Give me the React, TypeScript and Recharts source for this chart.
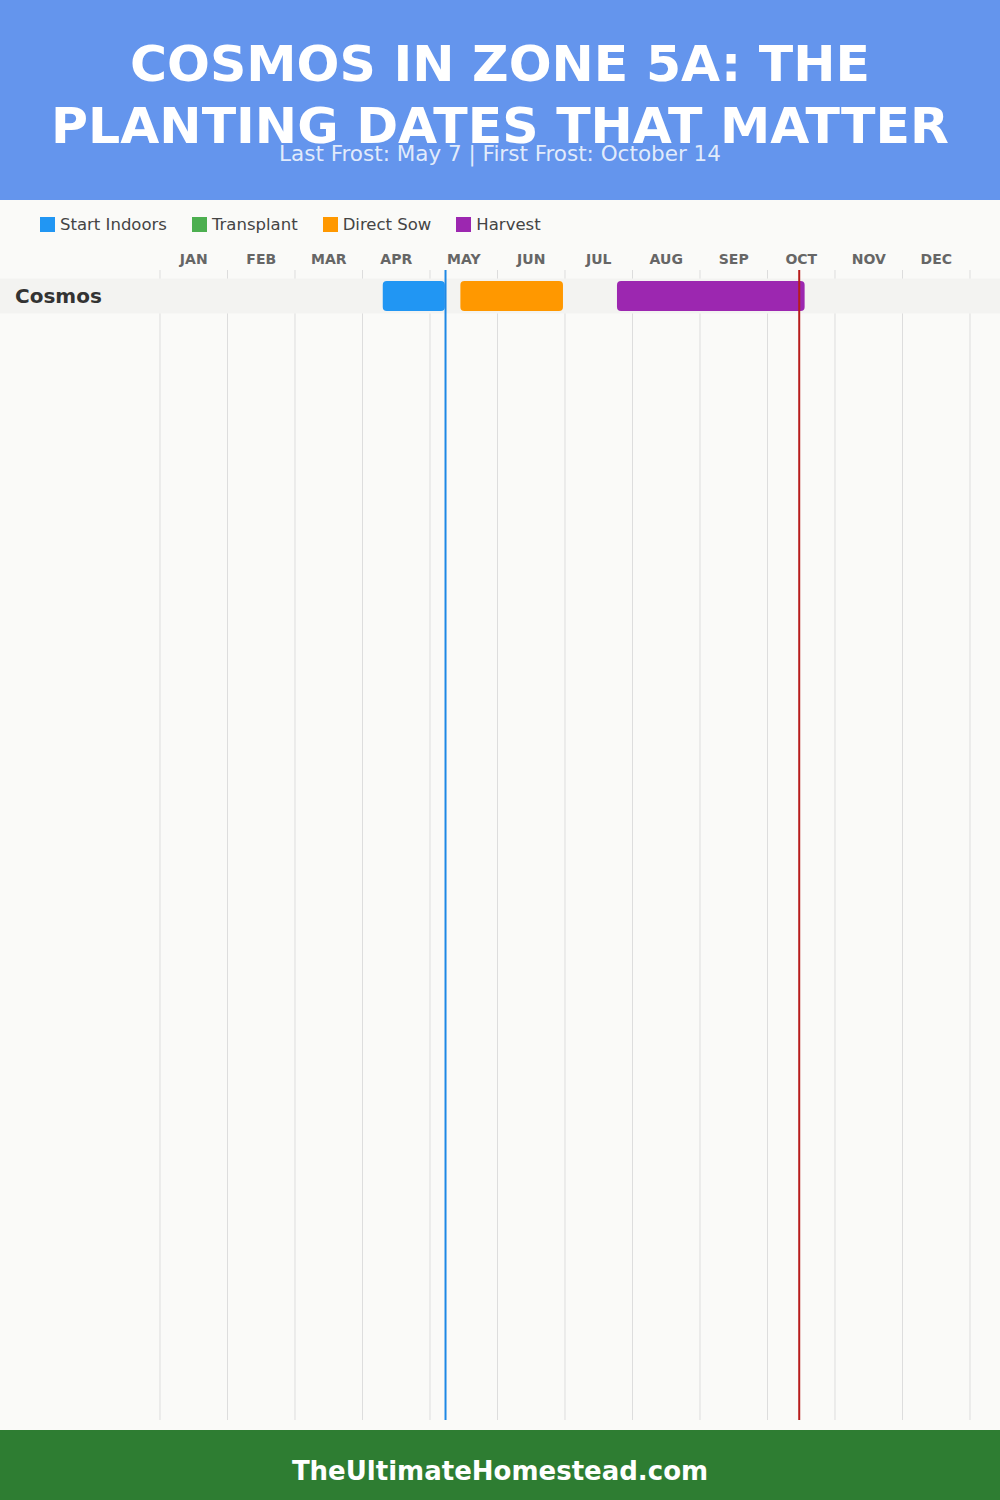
import React from 'react';
import { BarChart, Bar, XAxis, YAxis, CartesianGrid, ReferenceLine, Legend } from 'recharts';

// month units: 0 = Jan 1, 12 = end of Dec
const MONTHS = ['JAN', 'FEB', 'MAR', 'APR', 'MAY', 'JUN', 'JUL', 'AUG', 'SEP', 'OCT', 'NOV', 'DEC'];
const MONTH_MIDS = [0.5, 1.5, 2.5, 3.5, 4.5, 5.5, 6.5, 7.5, 8.5, 9.5, 10.5, 11.5];
const MONTH_EDGES = [0, 1, 2, 3, 4, 5, 6, 7, 8, 9, 10, 11, 12];

const SERIES_NAMES = ['Start Indoors', 'Transplant', 'Direct Sow', 'Harvest'];

const PLANTS = ['Cosmos'];
const START_INDOORS = [[3.3, 4.22]];
const TRANSPLANT = [null];
const DIRECT_SOW = [[4.45, 5.97]];
const HARVEST = [[6.77, 9.55]];

const LAST_FROST = 4.23; // May 7
const FIRST_FROST = 9.47; // Oct 14

const FONT = '"DejaVu Sans", sans-serif';

const PlantTick = (props: any) => {
    const { y, payload } = props;
    return (
        <text x={15} y={y} dy="0.35em" textAnchor="start" fontSize={20} fontWeight={700} fill="#333">
            {payload.value}
        </text>
    );
};

// full-width light row band behind the bars
const BandBackground = (props: any) => (
    <rect x={0} y={props.y - 2.5} width={1000} height={props.height + 5} fill="#f3f3f1" />
);

const renderLegend = (props: any) => {
    const items = props.payload || [];
    const ordered = SERIES_NAMES.map((n) => items.find((e: any) => e.value === n)).filter(Boolean);
    return (
        <div style={{ display: 'flex', alignItems: 'center' }}>
            {ordered.map((entry: any) => (
                <div key={entry.value} style={{ display: 'flex', alignItems: 'center', marginRight: 25 }}>
                    <span style={{ display: 'inline-block', width: 15, height: 15, background: entry.color, marginRight: 5 }} />
                    <span style={{ fontSize: 16.5, color: '#444' }}>{entry.value}</span>
                </div>
            ))}
        </div>
    );
};

export default function App() {
    const data = PLANTS.map((plant, i) => ({
        plant,
        startIndoors: START_INDOORS[i],
        transplant: TRANSPLANT[i],
        directSow: DIRECT_SOW[i],
        harvest: HARVEST[i],
    }));

    return (
        <div style={{ position: 'absolute', left: 0, top: 0, width: 1000, height: 1500, background: '#fafaf8', fontFamily: FONT, overflow: 'hidden' }}>
            <div style={{ position: 'absolute', left: 0, top: 0, width: 1000, height: 200, background: '#6495ed' }}>
                <div style={{ position: 'absolute', top: 33, width: '100%', textAlign: 'center', color: '#fff', fontWeight: 800, fontSize: 50.5, lineHeight: '62px' }}>
                    COSMOS IN ZONE 5A: THE
                    <br />
                    PLANTING DATES THAT MATTER
                </div>
                <div style={{ position: 'absolute', top: 141, width: '100%', textAlign: 'center', color: 'rgba(255,255,255,0.82)', fontSize: 21.5, lineHeight: '26px' }}>
                    Last Frost: May 7 | First Frost: October 14
                </div>
            </div>

            <div style={{ position: 'absolute', left: 0, top: 200 }}>
                <BarChart
                    width={1000}
                    height={1230}
                    data={data}
                    layout="vertical"
                    margin={{ top: 40, right: 30, bottom: 10, left: 0 }}
                    barSize={30}
                    barGap={-30}
                >
                    <CartesianGrid horizontal={false} verticalValues={MONTH_EDGES} stroke="#dddddd" />
                    <XAxis
                        type="number"
                        orientation="top"
                        height={30}
                        domain={[0, 12]}
                        ticks={MONTH_MIDS}
                        interval={0}
                        allowDataOverflow
                        tickFormatter={(v: number) => MONTHS[Math.floor(v)]}
                        axisLine={false}
                        tickLine={false}
                        tickSize={0}
                        tickMargin={6}
                        tick={{ fontSize: 14, fontWeight: 700, fill: '#666' }}
                    />
                    <YAxis
                        type="category"
                        dataKey="plant"
                        width={160}
                        axisLine={false}
                        tickLine={false}
                        padding={{ top: 8, bottom: 1107 }}
                        tick={<PlantTick />}
                    />
                    <Legend
                        layout="horizontal"
                        verticalAlign="middle"
                        align="center"
                        itemSorter={null}
                        content={renderLegend}
                        wrapperStyle={{ top: 15, left: 40, width: 700 }}
                    />
                    <Bar dataKey="startIndoors" name="Start Indoors" fill="#2196f3" radius={4} isAnimationActive={false} background={BandBackground} />
                    <Bar dataKey="transplant" name="Transplant" fill="#4caf50" radius={4} isAnimationActive={false} />
                    <Bar dataKey="directSow" name="Direct Sow" fill="#ff9800" radius={4} isAnimationActive={false} />
                    <Bar dataKey="harvest" name="Harvest" fill="#9c27b0" radius={4} isAnimationActive={false} />
                    <ReferenceLine x={LAST_FROST} stroke="#1e88e5" strokeWidth={2} />
                    <ReferenceLine x={FIRST_FROST} stroke="#b71c1c" strokeWidth={2} />
                </BarChart>
            </div>

            <div style={{ position: 'absolute', left: 0, top: 1430, width: 1000, height: 70, background: '#2e7d32', color: '#fff', textAlign: 'center', fontWeight: 700, fontSize: 26, lineHeight: '82px' }}>
                TheUltimateHomestead.com
            </div>
        </div>
    );
}
